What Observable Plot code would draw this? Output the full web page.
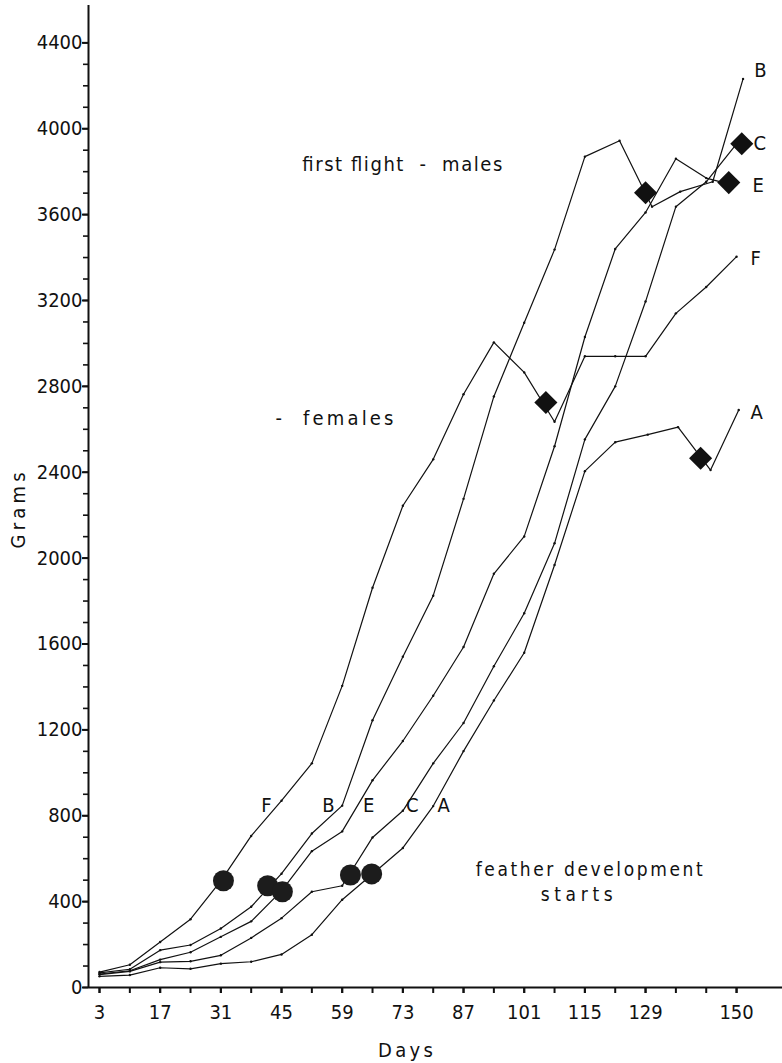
<!DOCTYPE html>
<html><head><meta charset="utf-8">
<script src="https://cdn.jsdelivr.net/npm/d3@7"></script>
<script src="https://cdn.jsdelivr.net/npm/@observablehq/plot@0.6"></script>
<style>
html,body{margin:0;padding:0;background:#fff;}
#chart svg{display:block;}
</style></head><body><div id="chart"></div>
<script>
// ---- data (day, grams) ----
const daysF  = [3,10,17,24,31,38,45,52,59,66,73,80,87,94,101,108,115,122,129,136,143,150];
const gramsF = [72,106,212,318,497,706,870,1044,1405,1862,2244,2460,2763,3005,2865,2635,2940,2940,2940,3140,3263,3404];

const daysB  = [3,10,17,24,31,38,45,52,59,66,73,80,87,94,101,108,115,123,130.5,137,144.5,151.5];
const gramsB = [68,85,174,198,275,376,530,717,847,1245,1541,1825,2276,2753,3096,3437,3870,3944,3637,3707,3753,4232];

const daysE  = [3,10,17,24,31,38,45,52,59,66,73,80,87,94,101,108,115,122,129,136,143,147];
const gramsE = [63,78,130,164,236,308,450,635,727,965,1148,1359,1586,1927,2101,2521,3030,3440,3610,3860,3770,3749];

const daysC  = [3,10,17,24,31,38,45,52,59,66,73,80,87,94,101,108,115,122,129,136,143,150];
const gramsC = [60,75,118,122,150,231,323,446,474,699,823,1044,1232,1496,1743,2069,2553,2800,3195,3637,3753,3930];

const daysA  = [3,10,17,24,31,38,45,52,59,66,73,80,87,94,101,108,115,122,129.5,136.5,144,150.5];
const gramsA = [52,58,92,87,111,120,154,246,409,529,650,845,1101,1337,1559,1968,2405,2540,2575,2610,2410,2690];

// feather development starts (circles)
const featherSeries = ["F","B","E","C","A"];
const featherDays   = [31.6,41.8,45.2,60.9,65.8];
const featherGrams  = [497,474,446,524,529];

// first flight (diamonds)
const flightSeries = ["F","B","A","E","C"];
const flightDays   = [106,129,141.7,148.2,151.2];
const flightGrams  = [2725,3702,2465,3749,3930];

// axis ticks
const xTickDays   = d3.range(3, 151, 7);
const xTickLabels = [3,17,31,45,59,73,87,101,115,129,150];
const yMinorTicks = d3.range(0, 4401, 100);
const yMajorTicks = d3.range(0, 4401, 400);

// ---- build tables ----
const seriesList = [
  ["F", daysF, gramsF], ["B", daysB, gramsB], ["E", daysE, gramsE],
  ["C", daysC, gramsC], ["A", daysA, gramsA]
];
const rows = seriesList.flatMap(([s, ds, gs]) => ds.map((d, i) => ({series: s, day: d, grams: gs[i]})));
const feather = featherSeries.map((s, i) => ({series: s, day: featherDays[i], grams: featherGrams[i]}));
const flight = flightSeries.map((s, i) => ({series: s, day: flightDays[i], grams: flightGrams[i]}));

const FONT = "'Liberation Sans Narrow','DejaVu Sans Condensed','Roboto Condensed','Liberation Sans',sans-serif";

// annotation texts (position in data units)
const notes = [
  {text: "first flight  -  males", day: 49.8, grams: 3805, w: 200, size: 20},
  {text: "-  females", day: 43.6, grams: 2618, w: 118, size: 20},
  {text: "feather development", day: 89.8, grams: 520, w: 227, size: 19},
  {text: "starts", day: 104.8, grams: 405, w: 72, size: 19}
];
const lowLabels = [
  {text: "F", day: 41.5}, {text: "B", day: 55.8}, {text: "E", day: 65.1},
  {text: "C", day: 75.2}, {text: "A", day: 82.4}
];
const endLabels = [
  {text: "B", day: 154.1, grams: 4239}, {text: "C", day: 153.9, grams: 3899},
  {text: "E", day: 153.7, grams: 3703}, {text: "F", day: 153.2, grams: 3363},
  {text: "A", day: 153.2, grams: 2650}
];

const chart = Plot.plot({
  width: 782, height: 1063,
  marginLeft: 88, marginRight: 0, marginTop: 5, marginBottom: 76,
  x: {domain: [0.46, 160.6]},
  y: {domain: [0, 4574]},
  style: {fontFamily: FONT, background: "#fff", color: "#111"},
  marks: [
    Plot.axisY(yMinorTicks, {tickSize: 5, text: null, label: null, strokeWidth: 1.6}),
    Plot.axisY(yMajorTicks, {tickSize: 6, tickPadding: 0, tickFormat: d => String(d), label: null, fontSize: 20, strokeWidth: 2, fill: "#111"}),
    Plot.axisX(xTickDays, {tickSize: 6, text: null, label: null, strokeWidth: 2}),
    Plot.axisX(xTickLabels, {tickSize: 6, tickPadding: 11, tickFormat: d => String(d), label: null, fontSize: 20, strokeWidth: 2, fill: "#111"}),
    Plot.ruleX([0.46], {stroke: "#111", strokeWidth: 2}),
    Plot.ruleY([0], {stroke: "#111", strokeWidth: 2.2}),
    Plot.line(rows, {x: "day", y: "grams", z: "series", stroke: "#111", strokeWidth: 1.2}),
    Plot.dot(rows, {x: "day", y: "grams", r: 1.2, fill: "#111"}),
    Plot.dot(feather, {x: "day", y: "grams", r: 10.5, fill: "#1c1c1c"}),
    Plot.dot(flight, {x: "day", y: "grams", r: 10.4, symbol: "diamond2", fill: "#111"}),
    Plot.text(notes, {x: "day", y: "grams", text: "text", textAnchor: "start", lineAnchor: "bottom", fontSize: "size", fill: "#111"}),
    Plot.text(lowLabels, {x: "day", y: () => 816, text: "text", textAnchor: "middle", lineAnchor: "bottom", fontSize: 20, fill: "#111"}),
    Plot.text(endLabels, {x: "day", y: "grams", text: "text", textAnchor: "start", lineAnchor: "bottom", fontSize: 20, fill: "#111"}),
    Plot.text(["Grams"], {x: () => -15.7, y: () => 2222, text: d => d, rotate: -90, textAnchor: "middle", lineAnchor: "middle", fontSize: 20, fill: "#111"}),
    Plot.text(["Days"], {x: () => 73.6, y: () => -326, text: d => d, textAnchor: "middle", lineAnchor: "bottom", fontSize: 20, fill: "#111"})
  ]
});
document.getElementById("chart").appendChild(chart);

// stretch letter spacing of annotation texts to their widths in the reference
const widths = new Map(notes.map(n => [n.text, n.w]));
widths.set("Grams", 76); widths.set("Days", 55);
d3.select(chart).selectAll("text").each(function() {
  const t = this.textContent;
  if (widths.has(t)) {
    this.setAttribute("textLength", widths.get(t));
    this.setAttribute("lengthAdjust", "spacing");
  }
});
</script></body></html>
